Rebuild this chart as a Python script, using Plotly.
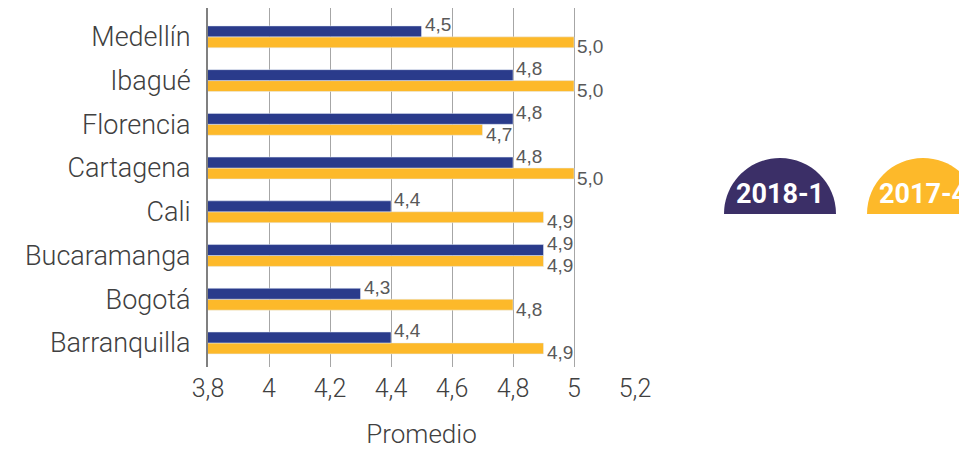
import plotly.graph_objects as go

cities = ["Barranquilla", "Bogotá", "Bucaramanga", "Cali", "Cartagena", "Florencia", "Ibagué", "Medellín"]
v_2018_1 = [4.4, 4.3, 4.9, 4.4, 4.8, 4.8, 4.8, 4.5]
v_2017_4 = [4.9, 4.8, 4.9, 4.9, 5.0, 4.7, 5.0, 5.0]
series_names = ["2018-1", "2017-4"]
x_ticks = [3.8, 4.0, 4.2, 4.4, 4.6, 4.8, 5.0, 5.2]

BLUE = "#2a3b8b"
YELLOW = "#fdb92a"
PURPLE = "#3b2f67"
LABEL = "#595959"
TXT = "#404040"

fig = go.Figure()
fig.add_trace(go.Bar(y=cities, x=v_2017_4, name=series_names[1], marker_color=YELLOW, orientation="h"))
fig.add_trace(go.Bar(y=cities, x=v_2018_1, name=series_names[0], marker_color=BLUE, orientation="h"))

# value labels (blue sits in the upper half of each group, yellow in the lower half)
label_font = dict(family="Liberation Sans, Arial", size=19, color=LABEL)
for vals, ysh in ((v_2018_1, 12), (v_2017_4, -10)):
    for c, v in zip(cities, vals):
        fig.add_annotation(x=v, y=c, text=f"{v:.1f}".replace(".", ","), showarrow=False,
                           xanchor="left", yanchor="middle", xshift=2, yshift=ysh, font=label_font,
                           borderpad=0)

fig.update_layout(
    width=967, height=452,
    margin=dict(l=200, r=340, t=0, b=93, autoexpand=False),
    paper_bgcolor="white", plot_bgcolor="white",
    barmode="group", bargap=0.5, bargroupgap=0,
    separators=",.",
    showlegend=False,
    font=dict(family="Roboto", color=TXT),
)
fig.update_xaxes(
    range=[3.8, 5.2], tickvals=x_ticks, showgrid=True, gridcolor="#a6a6a6", gridwidth=1,
    zeroline=False, showline=False, ticks="", ticklabelstandoff=4, automargin=False,
    tickfont=dict(family="Roboto", size=25, color=TXT, weight=300),
    title=dict(text="Promedio", font=dict(family="Roboto", size=26, color=TXT, weight=300), standoff=22),
)
fig.update_yaxes(
    range=[-0.55, 7.66], showline=True, linecolor="#808080", linewidth=2, showgrid=False,
    ticks="", ticklabelstandoff=10, automargin=False,
    tickfont=dict(family="Roboto", size=27, color=TXT, weight=300),
)

# legend badges (semicircles)
def semi(r):
    k = 0.5523 * r
    return (f"M {-r},0 C {-r},{k} {-k},{r} 0,{r} C {k},{r} {r},{k} {r},0 Z")

plot_x0, plot_w = 208, 427
plot_y1, plot_h = 367, 359
badges = [(780, PURPLE, series_names[0]), (923, YELLOW, series_names[1])]
for cx, col, label in badges:
    xa = (cx - plot_x0) / plot_w
    ya = (plot_y1 - 214) / plot_h
    fig.add_shape(type="path", xref="paper", yref="paper", xsizemode="pixel", ysizemode="pixel",
                  xanchor=xa, yanchor=ya, path=semi(56), fillcolor=col, line=dict(width=0))
    fig.add_annotation(xref="paper", yref="paper", x=xa, y=ya, yshift=20, text=f"<b>{label}</b>",
                       showarrow=False, font=dict(family="Roboto", size=27, color="white"),
                       xanchor="center", yanchor="middle")

fig.write_html("out.html")
